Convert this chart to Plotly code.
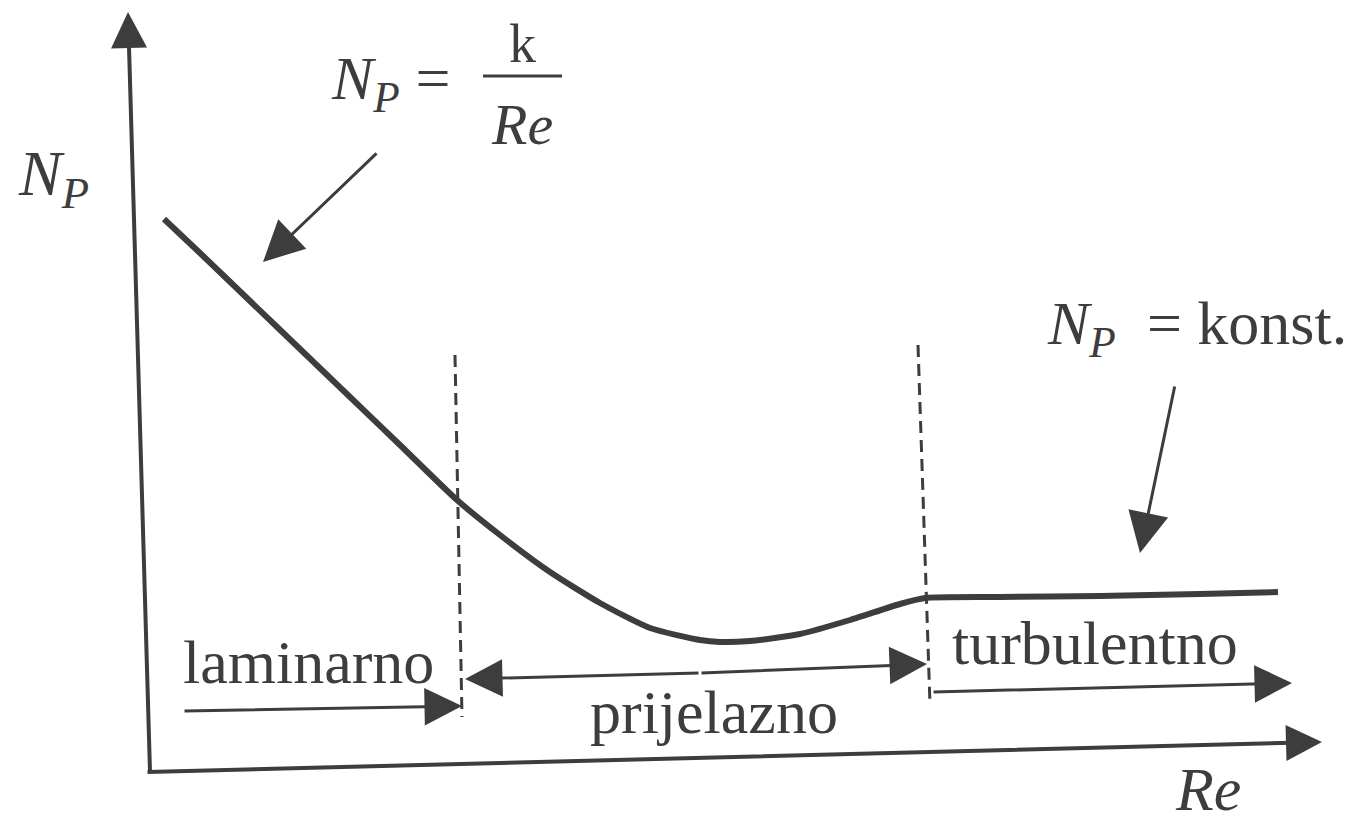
import plotly.graph_objects as go

# Skica: N_P u ovisnosti o Re (koordinate slike, piksel)
re_curve = [164, 200, 250, 300, 350, 400, 457, 500, 550, 600, 650, 700, 720,
            750, 800, 850, 900, 925, 1000, 1100, 1200, 1278]
np_curve = [219, 253, 301, 349, 397, 445, 500, 535, 572, 603, 628, 640, 642,
            641, 634, 620, 604, 598, 597, 596, 594, 592]

# granice rezima (crtkane linije): gore i dolje
boundary_x_top = [455, 918]
boundary_y_top = [355, 345]
boundary_x_bot = [462, 930]
boundary_y_bot = [717, 705]

region_labels = ["laminarno", "prijelazno", "turbulentno"]
region_label_x = [308, 714, 1095]
region_label_y = [662, 712, 643]

INK = "#3d3d3d"
SERIF = "Times New Roman, Liberation Serif, DejaVu Serif, serif"
PAGE_MARGIN = 8  # zadana margina <body> u pregledniku

fig = go.Figure()

fig.add_trace(go.Scatter(x=re_curve, y=np_curve, mode="lines",
                         line=dict(color=INK, width=6, shape="spline", smoothing=0.6),
                         hoverinfo="skip"))

for i in range(len(boundary_x_top)):
    fig.add_trace(go.Scatter(x=[boundary_x_top[i], boundary_x_bot[i]],
                             y=[boundary_y_top[i], boundary_y_bot[i]],
                             mode="lines",
                             line=dict(color=INK, width=3, dash="12px,7px"),
                             hoverinfo="skip"))


def arrow(x0, y0, x1, y1, width=3, size=2.5):
    fig.add_annotation(x=x1, y=y1, ax=x0, ay=y0, xref="x", yref="y",
                       axref="x", ayref="y", text="", showarrow=True,
                       arrowhead=2, arrowsize=size, arrowwidth=width,
                       arrowcolor=INK, standoff=0)


# osi
arrow(150, 772, 128, 12, width=4, size=1.8)
arrow(146, 772, 1322, 742, width=4, size=1.8)

# strelice rezima
arrow(183, 711, 462, 706)
arrow(700, 673, 465, 679)
arrow(700, 673, 927, 664)
arrow(932, 692, 1292, 683)

# pokazivaci
arrow(378, 152, 263, 262, size=2.7)
arrow(1175, 385, 1140, 553, size=2.7)


def label(x, y, text, size=62):
    fig.add_annotation(x=x, y=y, xref="x", yref="y", text=text, showarrow=False,
                       font=dict(family=SERIF, size=size, color=INK),
                       xanchor="center", yanchor="middle")


for t, x, y in zip(region_labels, region_label_x, region_label_y):
    label(x, y, t)

label(53, 178, "<i>N<sub>P</sub></i>", size=64)
label(390, 82, "<i>N<sub>P</sub></i> =", size=62)
label(522, 44, "k", size=54)
label(522, 124, "<i>Re</i>", size=58)
fig.add_shape(type="line", x0=483, x1=562, y0=76, y1=76,
              line=dict(color=INK, width=3))
label(1197, 327, "<i>N<sub>P</sub></i>\u00a0\u00a0=\u00a0konst.", size=62)
label(1208, 789, "<i>Re</i>", size=62)

fig.update_layout(
    width=1359 - PAGE_MARGIN, height=831 - PAGE_MARGIN,
    margin=dict(l=0, r=0, t=0, b=0),
    paper_bgcolor="white", plot_bgcolor="white",
    showlegend=False,
    xaxis=dict(range=[PAGE_MARGIN, 1359], visible=False),
    yaxis=dict(range=[831, PAGE_MARGIN], visible=False),
)

fig.write_html("out.html")
